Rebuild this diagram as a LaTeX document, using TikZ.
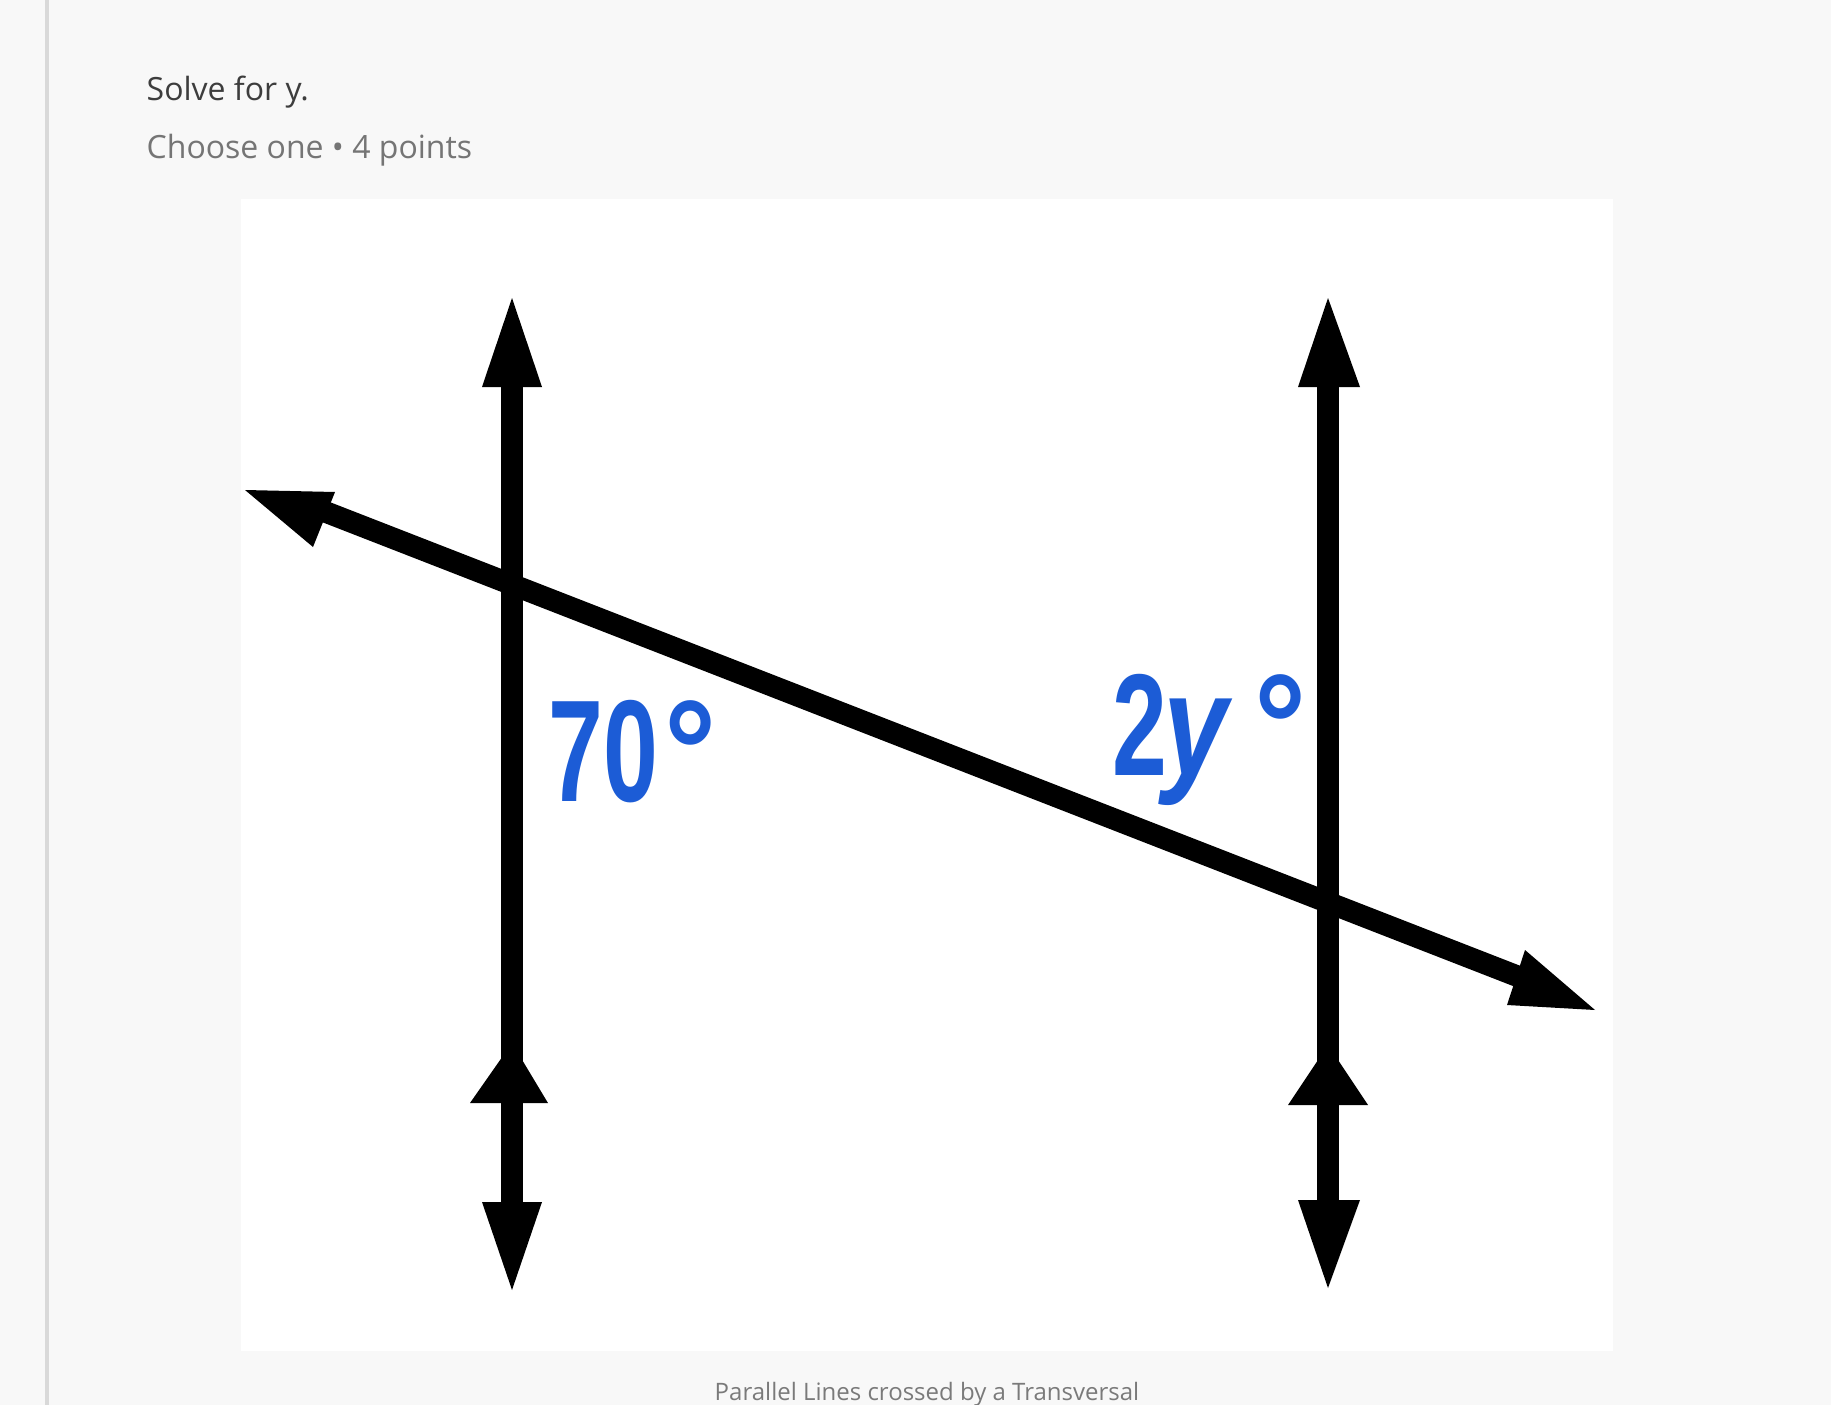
\documentclass[tikz,border=0pt]{standalone}
\usepackage{fontspec}
\usepackage{graphicx}
\newfontfamily\uifont{Open Sans}
\newfontfamily\lblfont{Liberation Sans}
\definecolor{pagebg}{HTML}{F8F8F8}
\definecolor{sidebar}{HTML}{D9D9D9}
\definecolor{qtext}{HTML}{3D3D3D}
\definecolor{subtext}{HTML}{757575}
\definecolor{captext}{HTML}{7A7A7A}
\definecolor{lblblue}{HTML}{1C5CD6}
\tikzset{
  ui/.style={inner sep=0pt, anchor=base west, font=\uifont\fontsize{32}{38}\selectfont},
  lbl/.style={inner sep=0pt, anchor=base west, text=lblblue, font=\lblfont\bfseries\fontsize{145}{160}\selectfont},
  geomline/.style={line width=21.5pt, black},
  headfill/.style={fill=black}
}
\begin{document}
\begin{tikzpicture}[x=1pt,y=-1pt]
\useasboundingbox (0,0) rectangle (1831,1405);
\fill[pagebg] (0,0) rectangle (1831,1405);
\fill[sidebar] (45,0) rectangle (49,1405);
\fill[white] (241,199) rectangle (1613,1351);

% header texts
\node[ui, text=qtext] (q) at (146.5,100) {Solve for y.};
\node[ui, text=subtext] (sub) at (146.5,158) {Choose one • 4 points};

% caption
\node[inner sep=0pt, anchor=base, text=captext, font=\uifont\fontsize{24}{28}\selectfont] (cap) at (927,1400) {Parallel Lines crossed by a Transversal};

% coordinates
\coordinate (Ltop) at (512,380);
\coordinate (Lbot) at (512,1215);
\coordinate (Rtop) at (1328,380);
\coordinate (Rbot) at (1328,1215);
\coordinate (Tl) at (318,509);
\coordinate (Tr) at (1522,978);

% lines
\draw[geomline] (Ltop) -- (Lbot);
\draw[geomline] (Rtop) -- (Rbot);
\draw[geomline] (Tl) -- (Tr);

% arrowheads left vertical
\fill[headfill] (512,298) -- (542,387) -- (482,387) -- cycle;
\fill[headfill] (512,1043) -- (548,1103) -- (470,1103) -- cycle;
\fill[headfill] (482,1202) -- (542,1202) -- (512,1290) -- cycle;
% arrowheads right vertical
\fill[headfill] (1328,298) -- (1360,387) -- (1298,387) -- cycle;
\fill[headfill] (1328,1045) -- (1368,1105) -- (1288,1105) -- cycle;
\fill[headfill] (1298,1200) -- (1360,1200) -- (1328,1288) -- cycle;
% arrowheads transversal
\fill[headfill] (245,490) -- (335,492) -- (313,547) -- cycle;
\fill[headfill] (1595,1010) -- (1525,950) -- (1507,1005) -- cycle;

% angle labels
\node[lbl] (a70) at (548,801) {\scalebox{0.68}[1]{70}};
\node[lbl] (d70) at (664,801) {\scalebox{0.9}[1]{°}};
\node[lbl] (a2) at (1112,775) {\scalebox{0.68}[1]{2}};
\node[lbl] (ay) at (1163,775) {\scalebox{0.8}[1]{\itshape y}};
\node[lbl] (d2y) at (1254,775) {\scalebox{0.9}[1]{°}};
\end{tikzpicture}
\end{document}
